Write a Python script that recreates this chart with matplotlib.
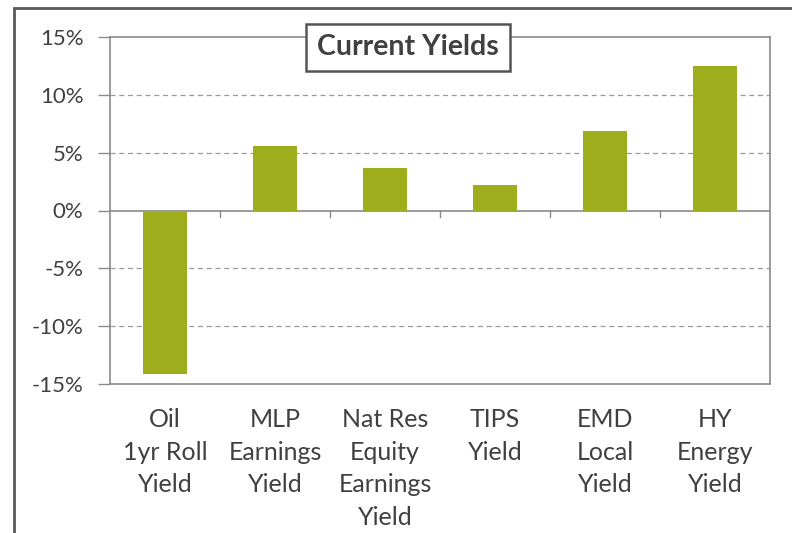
import matplotlib
matplotlib.use("Agg")
import matplotlib.pyplot as plt
from matplotlib.patches import Rectangle
from matplotlib.ticker import FuncFormatter

plt.rcParams['font.family'] = ['Lato', 'DejaVu Sans']

categories = ["Oil\n1yr Roll\nYield", "MLP\nEarnings\nYield", "Nat Res\nEquity\nEarnings\nYield",
              "TIPS\nYield", "EMD\nLocal\nYield", "HY\nEnergy\nYield"]
values = [-14.1, 5.6, 3.7, 2.2, 6.9, 12.5]
yticks = [-15, -10, -5, 0, 5, 10, 15]

bar_color = '#9dad1c'
axis_gray = '#8a8a8a'
text_gray = '#404040'

fig = plt.figure(figsize=(7.92, 5.33), dpi=100)
ax = fig.add_axes([110 / 792, 1 - 384 / 533, 660 / 792, 347 / 533])

x = list(range(len(categories)))
ax.bar(x, values, width=0.4, color=bar_color, zorder=3)

ax.set_xlim(-0.5, len(categories) - 0.5)
ax.set_ylim(-15, 15)
ax.set_yticks(yticks)
ax.yaxis.set_major_formatter(FuncFormatter(lambda v, p: f"{v:.0f}%"))
ax.tick_params(axis='y', length=9, width=1, color=axis_gray, labelsize=16,
               labelcolor=text_gray, pad=10)

# grid lines
for v in yticks[1:-1]:
    if v == 0:
        ax.axhline(0, color=axis_gray, lw=1.2, zorder=2)
    else:
        ax.axhline(v, color='#9a9a9a', lw=0.9, ls=(0, (4, 3)), zorder=1)

# small ticks on the zero line between categories
for b in range(1, len(categories)):
    ax.plot([b - 0.5, b - 0.5], [0, -0.6], color=axis_gray, lw=1, zorder=2)

ax.set_xticks([])
for xi, lab in zip(x, categories):
    ax.text(xi, -17.1, lab, ha='center', va='top',
            fontsize=18, color=text_gray, linespacing=1.5)

for s in ax.spines.values():
    s.set_color(axis_gray)
    s.set_linewidth(1.2)

ax.text(0.4515, 0.97, "Current Yields", transform=ax.transAxes, ha='center', va='center',
        fontsize=20.5, fontweight='bold', color='#404040', zorder=5,
        bbox=dict(boxstyle='square,pad=0.38', fc='white', ec='#555555', lw=1.8))

# outer chart frame (left and top edges visible)
fig.patches.append(Rectangle((14 / 792, -0.1), 1.2, 1 - 8 / 533 + 0.1, transform=fig.transFigure,
                             fill=False, ec='#5a5a5a', lw=2, zorder=0))

fig.savefig("out.png", dpi=100, facecolor='white')
